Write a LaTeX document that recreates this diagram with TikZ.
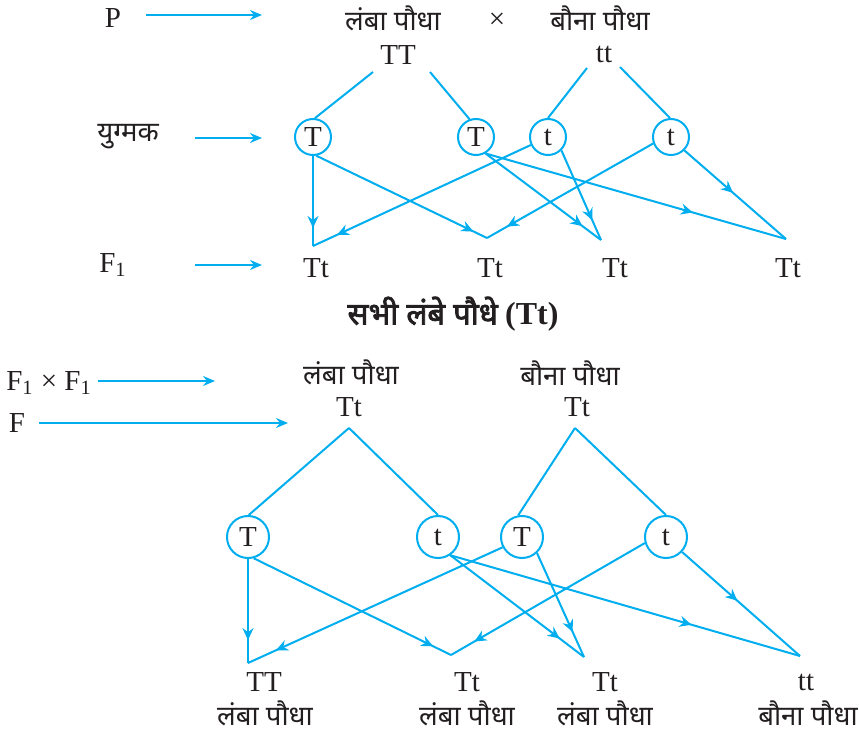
\documentclass[tikz,border=0pt]{standalone}
\usepackage{fontspec}
\setmainfont{Liberation Serif}
\newfontfamily\hin[Script=Devanagari]{Noto Sans}
\newfontfamily\hinbold[Script=Devanagari,FakeBold=2.5]{Noto Sans}
\usetikzlibrary{arrows.meta,decorations.markings}
\definecolor{cyanline}{HTML}{00AEEF}
\definecolor{inkdark}{HTML}{231F20}

\begin{document}
\begin{tikzpicture}[x=0.5pt,y=-0.5pt,
  every node/.style={text=inkdark,font=\fontsize{14.5}{17}\selectfont,inner sep=1pt},
  hi/.style={font=\hin\fontsize{13.8}{16}\selectfont},
  gam/.style={circle,draw=cyanline,line width=1pt,minimum size=18pt,inner sep=0pt},
  gamb/.style={gam,minimum size=21pt},
  lnk/.style={cyanline,line width=1pt},
  arr/.style={lnk,-{Stealth[length=6pt,width=5pt,inset=2pt]}},
  tipat/.style={decoration={markings,mark=at position #1 with {\arrow{Stealth[length=6pt,width=5.5pt,inset=2pt]}}},postaction={decorate}}]
\useasboundingbox (0,0) rectangle (859,733);
% upper cross
\node (P) at (113,18){P};\node[hi] (tall) at (393,18){लंबा पौधा};\node (cross) at (497,21){×};\node[hi] (dwarf) at (600,18){बौना पौधा};
\node (TT) at (398,55){TT};\node (tt) at (604,54){tt};
\coordinate (Pa) at (146,15);\coordinate (Pb) at (262,15);\draw[arr] (Pa)--(Pb);
\node[hi] (gmt) at (128,137){युग्मक};\coordinate (Ga) at (195,138);\coordinate (Gb) at (262,138);\draw[arr] (Ga)--(Gb);
\node (Fone) at (113,265){F\textsubscript{1}};\coordinate (Fa) at (195,265);\coordinate (Fb) at (262,265);\draw[arr] (Fa)--(Fb);
\node[gam] (g1) at (313,137){T};\node[gam] (g2) at (476,137){T};\node[gam] (g3) at (548,137){t};\node[gam] (g4) at (671,137){t};
\coordinate (TTl) at (373,72);\coordinate (TTr) at (430,72);\coordinate (ttl) at (587,68);\coordinate (ttr) at (620,67);
\draw[lnk] (TTl)--(g1.84);\draw[lnk] (TTr)--(g2.110);\draw[lnk] (ttl)--(g3.north);\draw[lnk] (ttr)--(g4.93);
\coordinate (v1) at (313,246);\coordinate (v2) at (487,238);\coordinate (v3) at (601,240);\coordinate (v4) at (786,239);
\draw[lnk,tipat=0.8] (g1.south)--(v1);
\draw[lnk,tipat=0.92] (g1.-80)--(v2);
\draw[lnk,tipat=0.89] (g3.205)--(v1);
\draw[lnk,tipat=0.88] (g4.200)--(v2);
\draw[lnk,tipat=0.84] (g2.-60)--(v3);
\draw[lnk,tipat=0.78] (g3.-45)--(v3);
\draw[lnk,tipat=0.69] (g2.-60)--(v4);
\draw[lnk,tipat=0.48] (g4.-45)--(v4);
\node (o1) at (316,268){Tt};\node (o2) at (490,268){Tt};\node (o3) at (615,268){Tt};\node (o4) at (788,268){Tt};
\node (all) at (453,314){{\hinbold\fontsize{15.5}{18}\selectfont सभी लंबे पौधे} {\fontsize{16}{18}\selectfont\bfseries(Tt)}};
% selfing of F1
\node (FF) at (49,383){F\textsubscript{1} × F\textsubscript{1}};\coordinate (FFa) at (98,381);\coordinate (FFb) at (215,381);\draw[arr] (FFa)--(FFb);
\node (Ftwo) at (17,423){F};\coordinate (F2a) at (39,423);\coordinate (F2b) at (288,423);\draw[arr] (F2a)--(F2b);
\node[hi] (tall2) at (351,372){लंबा पौधा};\node (Tt1) at (349,407){Tt};
\node[hi] (dwarf2) at (570,373){बौना पौधा};\node (Tt2) at (577,407){Tt};
\coordinate (a1) at (349,428);\coordinate (a2) at (575,428);
\node[gamb] (h1) at (248,537){T};\node[gamb] (h2) at (438,537){t};\node[gamb] (h3) at (522,537){T};\node[gamb] (h4) at (666,537){t};
\draw[lnk] (a1)--(h1.88);\draw[lnk] (a1)--(h2.north);\draw[lnk] (a2)--(h3.100);\draw[lnk] (a2)--(h4.north);
\coordinate (w1) at (248,663);\coordinate (w2) at (451,655);\coordinate (w3) at (584,657);\coordinate (w4) at (800,656);
\draw[lnk,tipat=0.78] (h1.south)--(w1);
\draw[lnk,tipat=0.91] (h1.-75)--(w2);
\draw[lnk,tipat=0.89] (h3.208)--(w1);
\draw[lnk,tipat=0.88] (h4.196)--(w2);
\draw[lnk,tipat=0.82] (h2.-56)--(w3);
\draw[lnk,tipat=0.76] (h3.-47)--(w3);
\draw[lnk,tipat=0.69] (h2.-56)--(w4);
\draw[lnk,tipat=0.47] (h4.-43)--(w4);
\node (r1) at (264,682){TT};\node[hi] (p1) at (265,713){लंबा पौधा};
\node (r2) at (467,682){Tt};\node[hi] (p2) at (467,713){लंबा पौधा};
\node (r3) at (605,682){Tt};\node[hi] (p3) at (605,713){लंबा पौधा};
\node (r4) at (806,682){tt};\node[hi] (p4) at (808,713){बौना पौधा};
\end{tikzpicture}
\end{document}
